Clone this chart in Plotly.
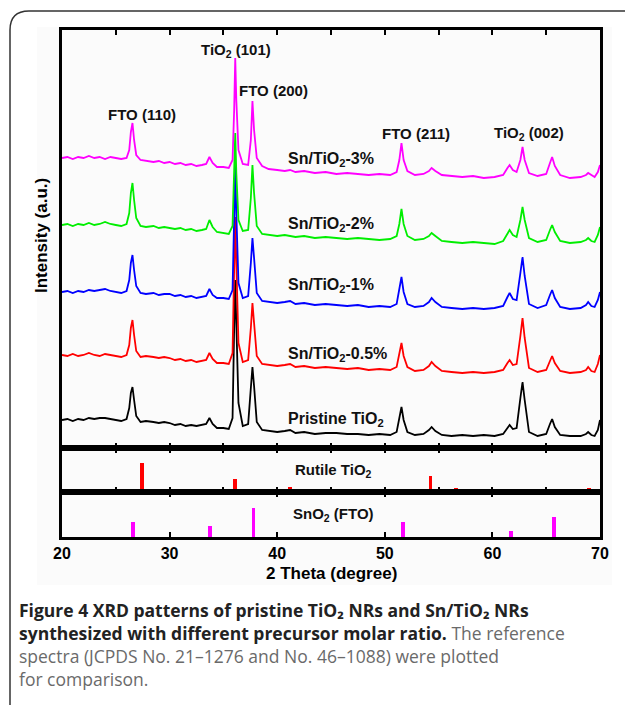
import plotly.graph_objects as go

# ---------------- data ----------------
two_theta = [
    20, 20.5, 21, 21.5, 22, 22.5, 23, 23.5, 24, 24.5, 25, 25.5, 26.0,
    26.25, 26.4, 26.55, 26.7, 26.9, 27.3,
    27.8, 28.5, 29, 29.5, 30, 30.5, 31, 31.5, 32, 32.5, 33, 33.4, 33.7, 34.0, 34.4, 35, 35.5,
    35.85, 36.0, 36.1, 36.2, 36.4, 36.8, 37.3, 37.55, 37.7, 37.85, 38.1, 38.6,
    39.2, 40, 40.7, 41.2, 41.7, 42.5, 43.5, 44.5, 45.5, 46.5, 47.5, 48.5, 49.5, 50.5,
    51.1, 51.35, 51.55, 51.75, 52.1, 52.8, 53.6, 54.1, 54.35, 54.7,
    55.3, 56.2, 57.2, 58.2, 59.2, 60.2, 61,
    61.4, 61.6, 61.9, 62.25, 62.6, 62.8, 63.0, 63.4, 64.2,
    65.0, 65.35, 65.55, 65.8, 66.3, 67.2, 68.2, 68.7, 68.9, 69.2, 69.5, 69.8, 70,
]

sn_3 = [
    290, 291, 289, 291, 290, 292, 290, 291, 289, 291, 290, 289, 290,
    298, 316, 325, 308, 293, 288,
    287, 286, 287, 285, 286, 284, 285, 283, 284, 282, 283, 284, 291, 285, 281, 281, 280,
    288, 338, 390, 348, 298, 284, 283, 308, 347, 318, 290, 282,
    279, 278, 277, 278, 276, 277, 275, 276, 274, 275, 274, 273, 274, 273,
    276, 288, 305, 288, 277, 273, 274, 277, 280, 277,
    273, 272, 271, 272, 270, 271, 273,
    280, 283, 278, 276, 288, 301, 288, 275, 272,
    274, 285, 291, 282, 273, 270, 271, 273, 275, 273, 271, 276, 283,
]
sn_2 = [
    223, 224, 222, 224, 223, 225, 223, 224, 226, 224, 223, 222, 224,
    235, 255, 265, 248, 230, 222,
    221, 222, 220, 221, 220, 219, 220, 218, 219, 217, 218, 219, 228, 221, 216, 215, 214,
    222, 270, 315, 275, 228, 217, 218, 250, 283, 255, 222, 214,
    213, 212, 213, 212, 211, 212, 210, 211, 210, 209, 210, 209, 208, 209,
    212, 224, 239, 224, 212, 208, 209, 212, 215, 212,
    207, 206, 205, 206, 205, 204, 207,
    214, 218, 213, 211, 228, 241, 228, 210, 206,
    208, 218, 223, 216, 207, 205, 206, 208, 210, 207, 206, 213, 221,
]
sn_1 = [
    156, 157, 155, 157, 156, 158, 157, 158, 159, 157, 156, 155, 157,
    168, 185, 193, 178, 162, 155,
    154, 155, 153, 154, 154, 152, 153, 151, 152, 150, 151, 152, 159, 153, 150, 150, 149,
    158, 230, 283, 235, 165, 150, 152, 185, 210, 190, 155, 147,
    146, 145, 146, 147, 144, 145, 143, 144, 143, 142, 143, 141, 142, 141,
    144, 157, 171, 156, 144, 141, 142, 146, 150, 146,
    141, 140, 139, 140, 139, 140, 142,
    151, 155, 149, 148, 175, 191, 172, 144, 140,
    143, 153, 158, 150, 141, 139, 140, 143, 146, 142, 141, 148, 156,
]
sn_05 = [
    93, 92, 94, 92, 93, 95, 93, 92, 94, 93, 92, 91, 93,
    103, 120, 128, 113, 97, 91,
    92, 91, 90, 91, 90, 88, 89, 87, 88, 86, 87, 88, 95, 89, 85, 85, 84,
    95, 180, 231, 185, 105, 86, 88, 120, 145, 125, 92, 84,
    83, 82, 83, 84, 81, 82, 80, 81, 80, 79, 80, 78, 79, 78,
    81, 93, 105, 92, 81, 77, 78, 82, 86, 82,
    77, 76, 75, 76, 75, 76, 78,
    85, 88, 83, 84, 112, 130, 110, 80, 76,
    78, 87, 92, 85, 77, 75, 76, 78, 81, 77, 76, 84, 93,
]
pristine = [
    28, 29, 27, 29, 28, 30, 29, 30, 30, 29, 28, 27, 29,
    40, 55, 61, 48, 32, 26,
    27, 26, 25, 26, 25, 23, 24, 22, 23, 22, 23, 24, 30, 24, 20, 20, 19,
    30, 120, 168, 125, 45, 22, 24, 60, 81, 62, 26, 18,
    17, 16, 17, 18, 15, 16, 14, 15, 15, 14, 14, 13, 14, 13,
    16, 28, 41, 28, 16, 13, 14, 18, 21, 17,
    13, 12, 13, 12, 13, 12, 14,
    20, 23, 19, 20, 50, 66, 48, 16, 12,
    14, 24, 29, 21, 13, 12, 12, 14, 16, 13, 12, 18, 28,
]

series_names = ["Pristine TiO2", "Sn/TiO2-0.5%", "Sn/TiO2-1%", "Sn/TiO2-2%", "Sn/TiO2-3%"]
series_values = [pristine, sn_05, sn_1, sn_2, sn_3]
series_colors = ["#000000", "#ff0000", "#0000ff", "#00ee00", "#ff00ff"]

rutile_pos = [27.4, 36.05, 41.2, 54.25, 56.6, 68.95]
rutile_int = [100, 45, 17, 55, 15, 15]

sno2_pos = [26.6, 33.75, 37.8, 51.7, 61.7, 65.7]
sno2_int = [52, 38, 100, 52, 21, 69]

peak_labels = ["FTO (110)", "TiO<sub>2</sub> (101)", "FTO (200)", "FTO (211)", "TiO<sub>2</sub> (002)"]
peak_label_x = [27.4, 36.2, 39.7, 52.9, 63.4]
peak_label_y = [334, 398, 358, 315, 315]

sample_labels = ["Pristine TiO<sub>2</sub>", "Sn/TiO<sub>2</sub>-0.5%", "Sn/TiO<sub>2</sub>-1%",
                 "Sn/TiO<sub>2</sub>-2%", "Sn/TiO<sub>2</sub>-3%"]
sample_label_x = 40.8
sample_label_y = [29, 94, 163, 224, 289]

x_ticks = [20, 30, 40, 50, 60, 70]

# ---------------- figure ----------------
W, H = 625, 705
ML, MR, MT, MB = 62, 25, 30, 168
PW = W - ML - MR
PH = H - MT - MB


def px_x(px):
    return (px - ML) / PW


def px_y(py):
    return (H - MB - py) / PH


fig = go.Figure()

for name, vals, col in zip(series_names, series_values, series_colors):
    fig.add_trace(go.Scatter(x=two_theta, y=vals, mode="lines", name=name,
                             line=dict(color=col, width=1.8), xaxis="x", yaxis="y",
                             showlegend=False))

fig.add_trace(go.Bar(x=rutile_pos, y=rutile_int, width=0.35, marker=dict(color="#ff0000", line=dict(width=0)),
                     xaxis="x2", yaxis="y2", showlegend=False))
fig.add_trace(go.Bar(x=sno2_pos, y=sno2_int, width=0.35, marker=dict(color="#ff00ff", line=dict(width=0)),
                     xaxis="x3", yaxis="y3", showlegend=False))

d3 = 45 / PH
d2 = 89 / PH

ax_common = dict(range=[20, 70], showline=True, linecolor="black", linewidth=2.5,
                 mirror="ticks", ticks="inside", ticklen=5, tickwidth=2, tickcolor="black",
                 showgrid=False, zeroline=False)
ay_common = dict(showline=True, linecolor="black", linewidth=2.5, mirror=True,
                 ticks="", showticklabels=False, showgrid=False, zeroline=False, fixedrange=True)

fig.update_layout(
    width=W, height=H,
    margin=dict(l=ML, r=MR, t=MT, b=MB),
    paper_bgcolor="white", plot_bgcolor="rgba(0,0,0,0)",
    bargap=0,
    xaxis=dict(**ax_common, anchor="y", dtick=5, tick0=20, showticklabels=False),
    yaxis=dict(**ay_common, domain=[d2, 1], range=[0, 418], anchor="x"),
    xaxis2=dict(**ax_common, anchor="y2", dtick=5, tick0=20, showticklabels=False, matches="x"),
    yaxis2=dict(**ay_common, domain=[d3, d2], range=[0, 152], anchor="x2"),
    xaxis3=dict(**ax_common, anchor="y3", tickvals=x_ticks, ticktext=[str(t) for t in x_ticks],
                showticklabels=True, matches="x",
                tickfont=dict(family="Liberation Sans", size=16, color="black", weight="bold")),
    yaxis3=dict(**ay_common, domain=[0, d3], range=[0, 155], anchor="x3"),
)

lab_font = dict(family="Liberation Sans", size=15, color="#111111", weight="bold")
sam_font = dict(family="Liberation Sans", size=16, color="#111111", weight="bold")
ann = []
for t, x, y in zip(peak_labels, peak_label_x, peak_label_y):
    ann.append(dict(text=t, x=x, y=y, xref="x", yref="y", showarrow=False, font=lab_font,
                    xanchor="center", yanchor="middle"))
for t, y in zip(sample_labels, sample_label_y):
    ann.append(dict(text=t, x=sample_label_x, y=y, xref="x", yref="y", showarrow=False, font=sam_font,
                    xanchor="left", yanchor="middle"))
ann.append(dict(text="Rutile TiO<sub>2</sub>", x=45.2, y=76, xref="x2", yref="y2", showarrow=False,
                font=lab_font, xanchor="center", yanchor="middle"))
ann.append(dict(text="SnO<sub>2</sub> (FTO)", x=45.2, y=76, xref="x3", yref="y3", showarrow=False,
                font=lab_font, xanchor="center", yanchor="middle"))
# axis titles
ann.append(dict(text="2 Theta (degree)", x=0.5, y=px_y(573), xref="paper", yref="paper", showarrow=False,
                font=dict(family="Liberation Sans", size=17, color="black", weight="bold"),
                xanchor="center", yanchor="middle"))
ann.append(dict(text="Intensity (a.u.)", x=px_x(42), y=px_y(236), xref="paper", yref="paper", showarrow=False,
                textangle=-90,
                font=dict(family="Liberation Sans", size=17, color="black", weight="bold"),
                xanchor="center", yanchor="middle"))

# caption
cap_font = dict(family="Open Sans", size=17.5, color="#6a6a6a")
bold = "color:#222222;font-weight:bold"
cap_lines = [
    f"<span style='{bold}'>Figure 4 XRD patterns of pristine TiO₂ NRs and Sn/TiO₂ NRs</span>",
    f"<span style='{bold}'>synthesized with different precursor molar ratio.</span> The reference",
    "spectra (JCPDS No. 21–1276 and No. 46–1088) were plotted",
    "for comparison.",
]
cap_y = [610, 633, 656, 679]
for t, y in zip(cap_lines, cap_y):
    ann.append(dict(text=t, x=px_x(17), y=px_y(y), xref="paper", yref="paper", showarrow=False,
                    font=cap_font, xanchor="left", yanchor="middle", align="left"))

fig.update_layout(annotations=ann)

# figure frame (rounded corner top-left) and faint chart background
shapes = [
    dict(type="rect", xref="paper", yref="paper", x0=px_x(37), x1=px_x(612), y0=px_y(585), y1=px_y(27),
         fillcolor="#fbfbfb", line=dict(width=0), layer="below"),
    dict(type="path", xref="paper", yref="paper",
         path=(f"M {px_x(10)},{px_y(710)} L {px_x(10)},{px_y(30)} "
               f"Q {px_x(10)},{px_y(11)} {px_x(29)},{px_y(11)} L {px_x(630)},{px_y(11)}"),
         line=dict(color="#333333", width=1.5), layer="above"),
]
fig.update_layout(shapes=shapes)

fig.write_html("out.html")
